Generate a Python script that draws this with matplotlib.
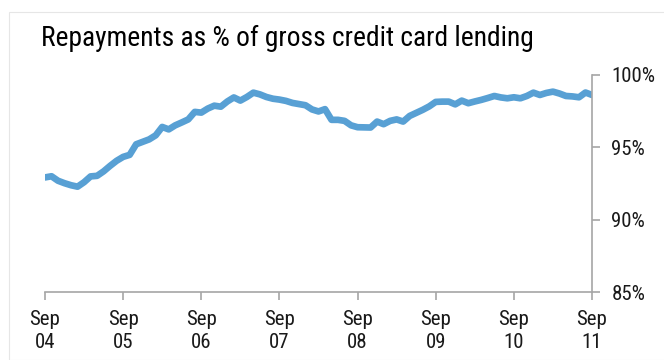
import matplotlib
matplotlib.use("Agg")
import matplotlib.pyplot as plt
from matplotlib.patches import Rectangle

# monthly repayment ratio, Sep 2004 .. Sep 2011 (%)
repayments = [
    92.92, 93.00, 92.69, 92.52, 92.38, 92.28, 92.59, 92.99, 93.03, 93.34,
    93.72, 94.07, 94.34, 94.48, 95.21, 95.38, 95.55, 95.83, 96.41, 96.24,
    96.52, 96.72, 96.93, 97.45, 97.40, 97.68, 97.88, 97.81, 98.17, 98.45,
    98.23, 98.48, 98.78, 98.66, 98.48, 98.36, 98.30, 98.21, 98.07, 97.99,
    97.91, 97.62, 97.48, 97.64, 96.90, 96.90, 96.83, 96.52, 96.39, 96.38,
    96.37, 96.78, 96.60, 96.83, 96.93, 96.78, 97.17, 97.38, 97.59, 97.83,
    98.14, 98.16, 98.16, 97.97, 98.23, 98.05, 98.17, 98.28, 98.41, 98.55,
    98.45, 98.39, 98.46, 98.39, 98.55, 98.78, 98.62, 98.76, 98.85, 98.72,
    98.55, 98.52, 98.46, 98.79, 98.62,
]
months = list(range(len(repayments)))

tick_months = [0, 12, 24, 36, 48, 60, 72, 84]
tick_labels = ["Sep\n04", "Sep\n05", "Sep\n06", "Sep\n07",
               "Sep\n08", "Sep\n09", "Sep\n10", "Sep\n11"]
y_ticks = [85, 90, 95, 100]
y_labels = ["85%", "90%", "95%", "100%"]

plt.rcParams["font.family"] = ["Roboto Condensed", "DejaVu Sans"]

W, H = 664, 360
fig = plt.figure(figsize=(W / 100, H / 100), dpi=100)

# thin frame around the chart panel
fig.patches.append(Rectangle((9 / W, 0), 1.0, 1 - 12 / H, transform=fig.transFigure,
                             fill=False, edgecolor="#e6e6e6", linewidth=0.8))

ax = fig.add_axes([45 / W, 1 - 292 / H, (592 - 45) / W, (292 - 75) / H])
ax.plot(months, repayments, color="#58a0d4", linewidth=4.8,
        solid_capstyle="round", solid_joinstyle="round")

ax.set_xlim(0, 84)
ax.set_ylim(85, 100)
ax.set_xticks(tick_months)
ax.set_xticklabels(tick_labels, fontsize=15, color="#1a1a1a", linespacing=1.25)
ax.set_yticks(y_ticks)
ax.set_yticklabels(y_labels, fontsize=15, color="#1a1a1a")
ax.yaxis.tick_right()

for side in ("top", "left"):
    ax.spines[side].set_visible(False)
for side in ("right", "bottom"):
    ax.spines[side].set_color("#a6a6a6")
    ax.spines[side].set_linewidth(1.2)
ax.tick_params(axis="x", direction="out", length=6, width=1.2, color="#a6a6a6", pad=7)
ax.tick_params(axis="y", direction="out", length=6, width=1.2, color="#a6a6a6", pad=8)

fig.text(41 / W, 1 - 46 / H, "Repayments as % of gross credit card lending",
         fontsize=19.8, color="#000000", ha="left", va="baseline")

fig.savefig("out.png", dpi=100)
